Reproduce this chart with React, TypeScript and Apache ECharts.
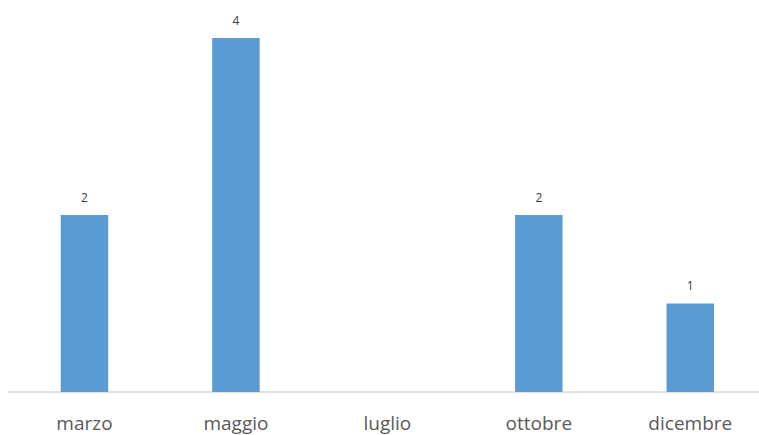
import React, { useEffect, useRef } from "react";
import * as echarts from "echarts";

const categories = ["marzo", "maggio", "luglio", "ottobre", "dicembre"];
const values: (number | null)[] = [2, 4, null, 2, 1];

export default function App() {
  const ref = useRef<HTMLDivElement>(null);
  useEffect(() => {
    document.body.style.margin = "0";
    document.body.style.overflow = "hidden";
    const chart = echarts.init(ref.current!, null, { renderer: "svg" });
    chart.setOption({
      animation: false,
      grid: { left: 8.75, right: 0, top: 38, bottom: 43 },
      xAxis: {
        type: "category",
        data: categories,
        axisLine: { lineStyle: { color: "#d9d9d9", width: 1.5 } },
        axisTick: { show: false },
        axisLabel: {
          color: "#595959",
          fontSize: 19,
          fontFamily: "Open Sans",
          margin: 21,
        },
      },
      yAxis: {
        type: "value",
        min: 0,
        max: 4,
        show: false,
        splitLine: { show: false },
      },
      series: [
        {
          type: "bar",
          data: values,
          barWidth: 47.5,
          itemStyle: { color: "#5b9bd5" },
          label: {
            show: true,
            position: "top",
            distance: 12,
            color: "#404040",
            fontSize: 12,
            fontFamily: "Open Sans",
          },
        },
      ],
    });
    return () => chart.dispose();
  }, []);
  return (
    <div style={{ width: 759, height: 435, overflow: "hidden" }}>
      <div ref={ref} style={{ width: 766.25, height: 435 }} />
    </div>
  );
}
